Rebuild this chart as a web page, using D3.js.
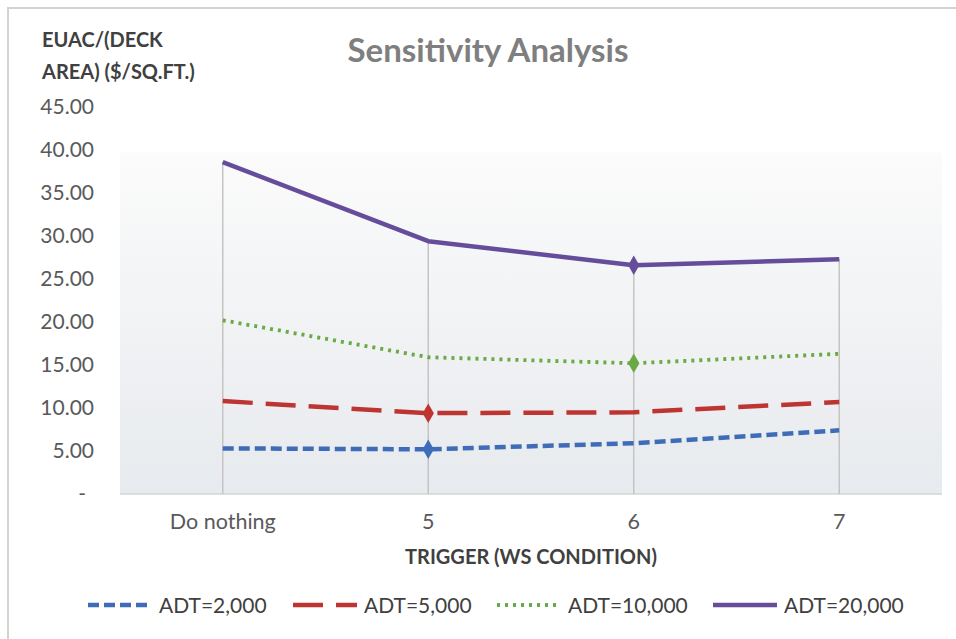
<!DOCTYPE html>
<html>
<head>
<meta charset="utf-8">
<script src="https://cdn.jsdelivr.net/npm/d3@7"></script>
<style>
  body { margin: 0; background: #fff; }
  text { font-family: Lato, "Open Sans", sans-serif; }
</style>
</head>
<body>
<div id="chart"></div>
<script>
// data
var categories = ["Do nothing", "5", "6", "7"];
var adt2000  = [5.3, 5.2, 5.9, 7.4];
var adt5000  = [10.8, 9.4, 9.5, 10.7];
var adt10000 = [20.2, 15.9, 15.2, 16.3];
var adt20000 = [38.6, 29.4, 26.6, 27.3];
var seriesNames = ["ADT=2,000", "ADT=5,000", "ADT=10,000", "ADT=20,000"];
var yTicks = [0, 5, 10, 15, 20, 25, 30, 35, 40, 45];
// which point of each series carries a diamond marker
var markerAt = [1, 1, 2, 2];

var width = 956, height = 639;
var margin = {left: 120, right: 14, top: 107, bottom: 145};

var series = [
  {name: seriesNames[0], values: adt2000,  color: "#3f6cb8", dash: "11,5", w: 4.5},
  {name: seriesNames[1], values: adt5000,  color: "#bd3431", dash: "30,13", w: 4.5},
  {name: seriesNames[2], values: adt10000, color: "#6aaa45", dash: "3,5", w: 3.8},
  {name: seriesNames[3], values: adt20000, color: "#654d9c", dash: null, w: 4.5}
];

var svg = d3.select("#chart").append("svg")
  .attr("width", width)
  .attr("height", height);

// outer frame
svg.append("rect")
  .attr("x", 8).attr("y", 8)
  .attr("width", width).attr("height", height)
  .attr("fill", "#fff")
  .attr("stroke", "#d6d2d0")
  .attr("stroke-width", 2);

var x = d3.scaleBand()
  .domain(categories)
  .range([margin.left, width - margin.right]);

var y = d3.scaleLinear()
  .domain([0, 45])
  .range([height - margin.bottom, margin.top]);

// plot background gradient
var grad = svg.append("defs").append("linearGradient")
  .attr("id", "bg").attr("x1", 0).attr("y1", 0).attr("x2", 0).attr("y2", 1);
grad.append("stop").attr("offset", "0%").attr("stop-color", "#fbfbfb");
grad.append("stop").attr("offset", "100%").attr("stop-color", "#e7eaee");

svg.append("rect")
  .attr("x", margin.left)
  .attr("y", y(39.7))
  .attr("width", x.range()[1] - x.range()[0])
  .attr("height", y(0) - y(39.7))
  .attr("fill", "url(#bg)");

// x axis line
svg.append("line")
  .attr("x1", margin.left).attr("x2", width - margin.right)
  .attr("y1", y(0)).attr("y2", y(0))
  .attr("stroke", "#d4d4d4").attr("stroke-width", 1.5);

// drop lines from the highest point down to the axis
categories.forEach(function(c, i) {
  var top = d3.max(series, function(s) { return s.values[i]; });
  svg.append("line")
    .attr("x1", x(c) + x.bandwidth() / 2)
    .attr("x2", x(c) + x.bandwidth() / 2)
    .attr("y1", y(top)).attr("y2", y(0))
    .attr("stroke", "#c8c3c3").attr("stroke-width", 1.5);
});

// y axis tick labels
var yAxis = d3.axisLeft(y)
  .tickValues(yTicks)
  .tickSize(0)
  .tickPadding(0)
  .tickFormat(function(d) { return d === 0 ? "-" : d3.format(".2f")(d); });

var gy = svg.append("g")
  .attr("transform", "translate(94,0)")
  .call(yAxis);
gy.select(".domain").remove();
gy.selectAll("text")
  .attr("fill", "#595959")
  .style("font-size", "21px")
  .style("font-family", "Lato, sans-serif");
gy.selectAll("text").filter(function(d) { return d === 0; }).attr("dx", -8);

// x axis labels
var xAxis = d3.axisBottom(x).tickSize(0).tickPadding(20);
var gx = svg.append("g")
  .attr("transform", "translate(0," + y(0) + ")")
  .call(xAxis);
gx.select(".domain").remove();
gx.selectAll("text")
  .attr("fill", "#595959")
  .style("font-size", "21.5px")
  .style("font-family", "Lato, sans-serif");

// lines
var line = d3.line()
  .x(function(d, i) { return x(categories[i]) + x.bandwidth() / 2; })
  .y(function(d) { return y(d); });

series.forEach(function(s, k) {
  svg.append("path")
    .datum(s.values)
    .attr("d", line)
    .attr("fill", "none")
    .attr("stroke", s.color)
    .attr("stroke-width", s.w)
    .attr("stroke-linejoin", "round")
    .attr("stroke-dasharray", s.dash);

  var i = markerAt[k];
  svg.append("path")
    .attr("d", d3.symbol().type(d3.symbolDiamond).size(110))
    .attr("transform", "translate(" + (x(categories[i]) + x.bandwidth() / 2) + "," + y(s.values[i]) + ")")
    .attr("fill", s.color);
});

// titles
svg.append("text")
  .attr("x", 488).attr("y", 62)
  .attr("text-anchor", "middle")
  .attr("fill", "#7f7f7f")
  .style("font-size", "33px")
  .style("font-weight", "bold")
  .text("Sensitivity Analysis");

var yt = svg.append("text")
  .attr("fill", "#404040")
  .style("font-size", "20px")
  .style("font-weight", "bold");
yt.append("tspan").attr("x", 42).attr("y", 47).text("EUAC/(DECK");
yt.append("tspan").attr("x", 42).attr("y", 79).text("AREA) ($/SQ.FT.)");

svg.append("text")
  .attr("x", (x.range()[0] + x.range()[1]) / 2)
  .attr("y", 564)
  .attr("text-anchor", "middle")
  .attr("fill", "#404040")
  .style("font-size", "20px")
  .style("font-weight", "bold")
  .text("TRIGGER (WS CONDITION)");

// legend
var legendX = [88, 293, 497, 713];
var legend = svg.selectAll(".legend")
  .data(series)
  .enter().append("g")
  .attr("class", "legend")
  .attr("transform", function(d, i) { return "translate(" + legendX[i] + ",605)"; });

legend.append("line")
  .attr("x1", 0).attr("x2", 64)
  .attr("stroke", function(d) { return d.color; })
  .attr("stroke-width", function(d) { return d.w; })
  .attr("stroke-dasharray", function(d) { return d.dash; });

legend.append("text")
  .attr("x", 71).attr("y", 7.5)
  .attr("fill", "#404040")
  .style("font-size", "21px")
  .text(function(d) { return d.name; });
</script>
</body>
</html>
